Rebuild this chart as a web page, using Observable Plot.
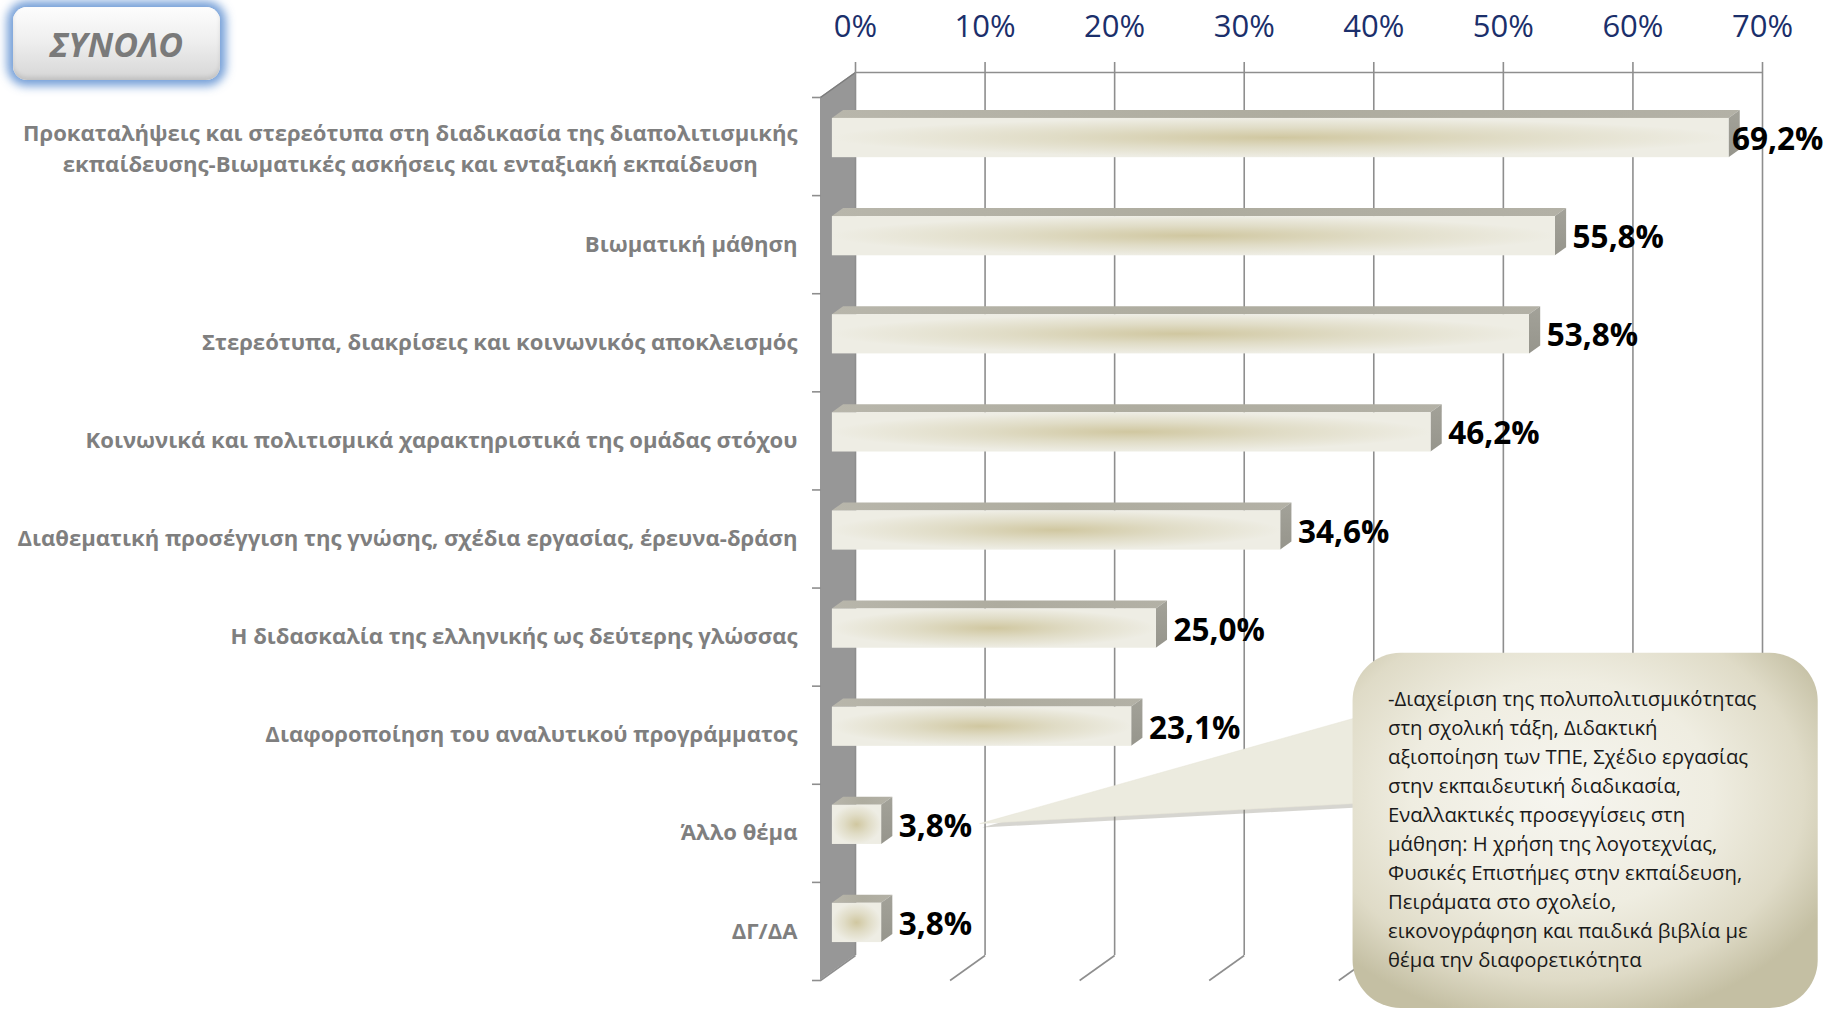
<!DOCTYPE html>
<html><head><meta charset="utf-8">
<script src="https://cdn.jsdelivr.net/npm/d3@7"></script>
<script src="https://cdn.jsdelivr.net/npm/@observablehq/plot@0.6"></script>
<style>
body{margin:0;background:#fff;}
#wrap{position:relative;width:1829px;height:1012px;overflow:hidden;}
#title{position:absolute;z-index:2;left:13px;top:7px;width:207px;height:73px;border-radius:14px;
 background:linear-gradient(#fdfdfd 0%,#efefef 45%,#d6d6d6 100%);
 box-shadow:0 0 10px 6px rgba(84,136,206,0.8), inset 0 -3px 4px rgba(0,0,0,0.10);
 display:flex;align-items:center;justify-content:center;
 font-family:"Open Sans";font-weight:700;font-style:italic;font-size:34px;color:#7a7a7a;}
#wrap svg{position:absolute;left:0;top:0;}
</style></head><body><div id="wrap"><div id="title">ΣΥΝΟΛΟ</div></div>
<script>
// ---------------- data ----------------
const categories = [
  "Προκαταλήψεις και στερεότυπα στη διαδικασία της διαπολιτισμικής\nεκπαίδευσης-Βιωματικές ασκήσεις και ενταξιακή εκπαίδευση",
  "Βιωματική μάθηση",
  "Στερεότυπα, διακρίσεις και κοινωνικός αποκλεισμός",
  "Κοινωνικά και πολιτισμικά χαρακτηριστικά της ομάδας στόχου",
  "Διαθεματική προσέγγιση της γνώσης, σχέδια εργασίας, έρευνα-δράση",
  "Η διδασκαλία της ελληνικής ως δεύτερης γλώσσας",
  "Διαφοροποίηση του αναλυτικού προγράμματος",
  "Άλλο θέμα",
  "ΔΓ/ΔΑ"
];
const values = [69.2, 55.8, 53.8, 46.2, 34.6, 25.0, 23.1, 3.8, 3.8];
const ticks = [0, 10, 20, 30, 40, 50, 60, 70];
const calloutLines = [
  "-Διαχείριση της πολυπολιτισμικότητας",
  "στη σχολική τάξη, Διδακτική",
  "αξιοποίηση των ΤΠΕ, Σχέδιο εργασίας",
  "στην εκπαιδευτική διαδικασία,",
  "Εναλλακτικές προσεγγίσεις στη",
  "μάθηση: Η χρήση της λογοτεχνίας,",
  "Φυσικές Επιστήμες στην εκπαίδευση,",
  "Πειράματα στο σχολείο,",
  "εικονογράφηση και παιδικά βιβλία με",
  "θέμα την διαφορετικότητα"
];

// ---------------- layout ----------------
const W = 1829, H = 1012, mL = 855, mR = 67, mT = 72, mB = 57;
const X_MAX = 70, ROWS = categories.length;
const kx = (W - mL - mR) / X_MAX, ky = (H - mT - mB) / ROWS;
const DEPTH = [-35, 25];                       // px offset of the front plane
const dU = [DEPTH[0] / kx, DEPTH[1] / ky];     // same in data units
const T_BACK = 0.34, T_FRONT = 0.66, PAD = 0.3;
const LABEL_MAX = 68.1;
// callout annotation (data units)
const C = {x1: 38.4, x2: 74.3, y1: 5.92, y2: 9.54, tipX: 9.65, tipY: 7.66, bY1: 6.554, bY2: 7.451};
const pointer = [
  {x: C.tipX, y1: C.tipY, y2: C.tipY},
  {x: C.x1 + 1, y1: C.bY1, y2: C.bY2}
];

const rows = categories.map((cat, i) => ({cat, value: values[i], i}));
const fmt = v => v.toFixed(1).replace(".", ",") + "%";

const topPts = rows.flatMap(r => [T_BACK, T_FRONT].map(t => ({
  i: r.i, y: r.i + PAD + t * dU[1], x1: t * dU[0], x2: r.value + t * dU[0]})));
const sidePts = rows.flatMap(r => [T_FRONT, T_BACK].map(t => ({
  i: r.i, x: r.value + t * dU[0], y1: r.i + PAD + t * dU[1], y2: r.i + 1 - PAD + t * dU[1]})));

const LABEL_FONT = 22.1;
const ctx = document.createElement("canvas").getContext("2d");
ctx.font = `700 ${LABEL_FONT}px "Open Sans"`;
const multi = rows.filter(d => d.cat.includes("\n"));
const single = rows.filter(d => !d.cat.includes("\n"));
const multiW = d3.max(multi, d => d3.max(d.cat.split("\n"), s => ctx.measureText(s).width)) || 0;

const GRID = "#8e8e8e";

const svg = Plot.plot({
  width: W, height: H,
  marginLeft: mL, marginRight: mR, marginTop: mT, marginBottom: mB,
  style: {fontFamily: "'Open Sans', sans-serif", background: "white", overflow: "visible"},
  x: {domain: [0, X_MAX], axis: null},
  y: {domain: [0, ROWS], reverse: true, axis: null},
  marks: [
    // left wall
    Plot.areaY([{x: 0, y1: 0, y2: ROWS}, {x: dU[0], y1: dU[1], y2: ROWS + dU[1]}],
      {x: "x", y1: "y1", y2: "y2", fill: "#979797"}),
    Plot.link([0], {x1: 0, y1: 0, x2: dU[0], y2: dU[1], stroke: "#7d7d7d", strokeWidth: 1.5}),
    // back gridlines & top edge
    Plot.ruleX(ticks, {x: d => d, y1: -10 / ky, y2: ROWS, stroke: GRID, strokeWidth: 1.6}),
    Plot.ruleY([0], {y: d => d, x1: 0, x2: X_MAX, stroke: GRID, strokeWidth: 1.6}),
    // floor diagonals
    Plot.link(ticks, {x1: d => d, y1: ROWS, x2: d => d + dU[0], y2: ROWS + dU[1], stroke: GRID, strokeWidth: 1.6}),
    // category ticks on wall front edge
    Plot.ruleY(d3.range(ROWS + 1), {y: d => d, x1: -8 / kx, x2: 1 / kx, dx: DEPTH[0], dy: DEPTH[1], stroke: GRID, strokeWidth: 1.6}),
    // bars: top, side, front
    Plot.areaX(topPts, {y: "y", x1: "x1", x2: "x2", z: "i", fill: "url(#barTop)"}),
    Plot.areaY(sidePts, {x: "x", y1: "y1", y2: "y2", z: "i", fill: "url(#barSide)"}),
    Plot.rect(rows, {x1: d => 0, x2: "value", y1: d => d.i + PAD, y2: d => d.i + 1 - PAD,
      dx: T_FRONT * DEPTH[0], dy: T_FRONT * DEPTH[1], fill: "url(#barFront)"}),
    // value labels
    Plot.text(rows, {x: d => Math.min(d.value, LABEL_MAX), y: d => d.i + 0.5, text: d => fmt(d.value),
      textAnchor: "start", dx: T_BACK * DEPTH[0] + 6, dy: T_FRONT * DEPTH[1] + 2,
      fontSize: 31.5, fontWeight: 700, fill: "#000"}),
    // category labels
    Plot.text(single, {x: d => 0, y: d => d.i + 0.5, text: "cat", textAnchor: "end",
      dx: DEPTH[0] - 23, dy: DEPTH[1], fontSize: LABEL_FONT, fontWeight: 700, fill: "#7f7f7f"}),
    Plot.text(multi, {x: d => 0, y: d => d.i + 0.5, text: "cat", textAnchor: "middle", lineHeight: 1.42,
      dx: DEPTH[0] - 23 - multiW / 2, dy: DEPTH[1], fontSize: LABEL_FONT, fontWeight: 700, fill: "#7f7f7f"}),
    // top tick labels
    Plot.text(ticks, {x: d => d, y: d => 0, text: d => d + "%", dy: -45, fontSize: 31, fill: "#1b2f6b"}),
    // callout pointer (with soft shadow copy) + box
    Plot.areaY(pointer, {x: "x", y1: "y1", y2: "y2", fill: "#8a8778", fillOpacity: 0.35, dx: 2, dy: 4}),
    Plot.areaY(pointer, {x: "x", y1: "y1", y2: "y2", fill: "#ecebdf", stroke: "#e6e4d6", strokeWidth: 0.5}),
    Plot.rect([C], {x1: "x1", x2: "x2", y1: "y1", y2: "y2", rx: 48, fill: "url(#boxGrad)", ariaLabel: "callout"}),
    Plot.text([C], {x: "x1", y: "y1", text: () => calloutLines.join("\n"), textAnchor: "start", lineAnchor: "top",
      dx: 35, dy: 32, fontSize: 20.3, lineHeight: 1.43, fill: "#1a1a1a"})
  ]
});

const defs = d3.select(svg).insert("defs", ":first-child");
function grad(type, id, attrs, stops) {
  const g = defs.append(type).attr("id", id);
  for (const k in attrs) g.attr(k, attrs[k]);
  stops.forEach(([o, c]) => g.append("stop").attr("offset", o).attr("stop-color", c));
}
grad("radialGradient", "barFront", {cx: 0.5, cy: 0.5, r: 0.5},
  [[0, "#d0c7a0"], [0.5, "#e0dcc6"], [1, "#eeede4"]]);
grad("linearGradient", "barTop", {x1: 0, x2: 1, y1: 0, y2: 0},
  [[0, "#b8b6ab"], [0.5, "#aeac9f"], [1, "#b3b1a6"]]);
grad("linearGradient", "barSide", {x1: 0, x2: 0, y1: 0, y2: 1},
  [[0, "#a3a299"], [1, "#96958c"]]);
grad("radialGradient", "boxGrad", {cx: 0.45, cy: 0.4, r: 0.65},
  [[0, "#f6f5ef"], [0.5, "#efede1"], [0.8, "#dfdbc7"], [1, "#c4bfa3"]]);
d3.select(svg).selectAll('g[aria-label="callout"]').style("filter", "drop-shadow(3px 4px 4px rgba(0,0,0,0.45))");

document.getElementById("wrap").appendChild(svg);
</script></body></html>
